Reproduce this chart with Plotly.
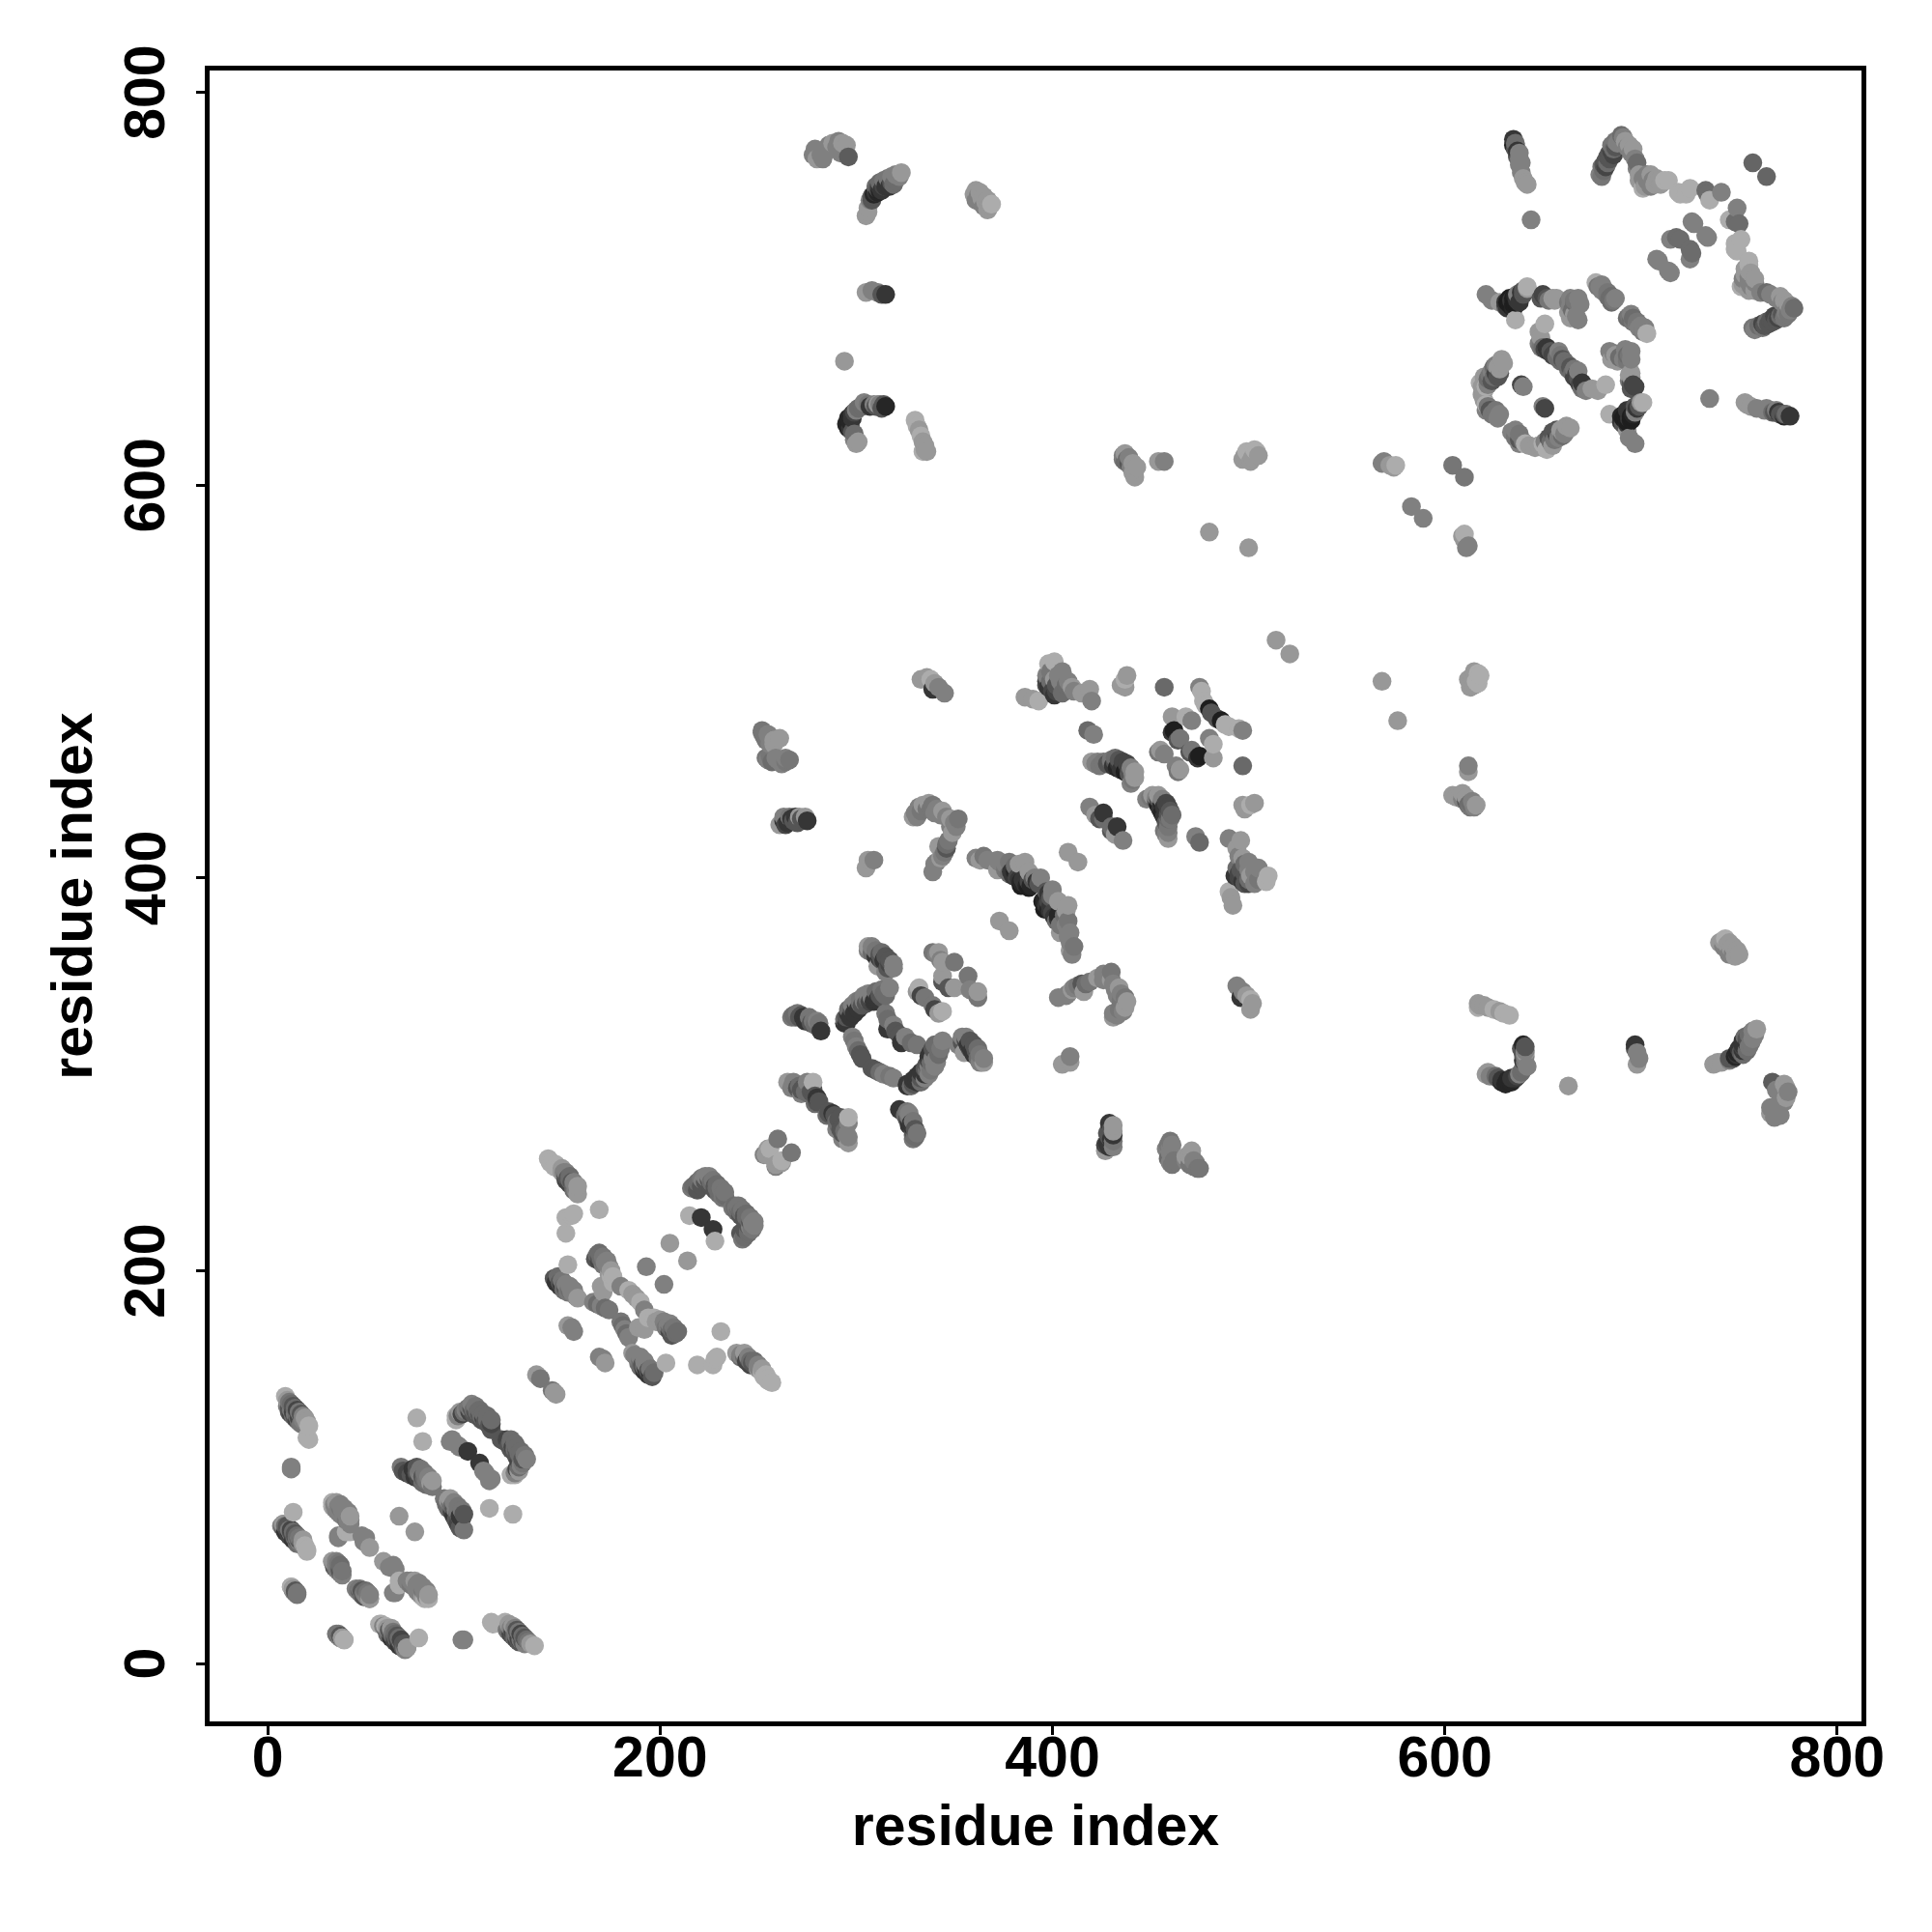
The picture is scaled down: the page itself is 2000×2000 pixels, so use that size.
import numpy as np
import plotly.graph_objects as go

# residue contacts as (residue i, residue j, grey level); the map is symmetric
domain_a = [
 (9,136,170),(10,131,125),(11,130,60),(12,129,110),(13,128,50),(14,127,110),(15,126,95),(16,125,50),(18,124,125),(19,123,125),(21,121,170),
 (20,115,170),(21,114,170),(12,99,125),
 (7,70,125),(8,69,60),(10,68,50),(11,67,40),(12,66,95),(13,65,50),(14,64,95),(15,63,60),(16,62,125),(18,61,150),(20,58,170),(13,77,170),
 (33,82,170),(34,81,125),(36,80,125),(37,79,110),(38,78,125),(39,77,125),(40,76,125),(41,74,125),(42,73,125),
 (36,64,125),(40,67,170),(48,65,125),(49,62,125),(52,59,150),
 (33,52,150),(34,51,125),(35,50,125),(36,49,110),(37,48,60),(38,47,110),
 (12,39,170),(13,38,150),(13,37,125),(14,36,95),(15,35,110),
 (36,15,110),(37,14,60),(38,13,150),(39,12,170),
 (45,38,125),(46,37,110),(47,37,60),(48,36,110),(50,35,125),(51,34,150),(52,33,150),
 (10,134,150),(11,133,110),(12,132,95),(13,131,60),(14,130,95),(15,129,50),(16,128,110),(17,127,60),(18,126,125),(19,125,150),(20,123,150),
 (11,128,60),(12,127,50),(13,126,95),(14,125,60),(15,124,50),(16,123,95),(17,122,110),
 (8,71,125),(9,70,95),(10,70,60),(12,68,50),(13,67,95),(14,66,60),(15,65,95),(16,64,110),(17,63,110),(18,63,150),(19,60,170),
 (9,67,40),(11,65,50),(13,63,40),(15,61,95),
 (35,82,150),(37,81,125),(39,79,125),(41,77,125),(42,75,150),
 (35,52,125),(36,51,110),(37,50,95),(34,49,60),(35,48,95),(36,47,125),
]
domain_a2 = [
 (68,100,110),(74,99,40),(75,98,40),(76,97,60),(77,97,110),(78,96,125),(79,95,60),(80,94,95),(81,93,110),(83,92,150),(84,90,110),
 (67,75,150),
 (76,125,170),(79,113,170),(93,113,125),(97,111,125),(102,108,40),
 (96,124,170),(99,127,50),(101,129,125),(103,130,110),(104,130,60),(105,129,95),(106,128,60),(107,128,95),(108,127,60),(109,126,95),(110,125,50),(112,124,95),(114,122,50),
 (114,119,60),
 (69,98,60),(71,97,50),(73,96,60),(75,95,40),(77,94,50),(79,92,95),(81,91,95),(76,100,60),(78,99,110),(80,97,110),(82,95,125),(84,93,150),
 (97,126,125),(100,128,95),(102,130,110),(103,128,50),(105,127,60),(107,126,60),(109,124,60),(111,123,60),(113,121,60),
 (104,132,125),(106,131,110),(108,129,95),(110,127,95),(112,126,95),(114,124,95),
]
domain_a3 = [
 (94,114,125),(98,110,125),(96,126,170),(98,128,150),
 (20,57,170),(19,59,125),(18,60,110),(17,62,60),(16,63,60),(15,64,110),(14,65,60),(13,66,60),(12,67,60),(11,68,110),(10,69,60),(8,70,125),(8,71,150),
 (12,100,125),
 (42,71,125),(41,72,125),(40,73,110),(37,76,125),(36,77,125),(35,78,125),(34,79,150),(33,80,170),
 (50,64,125),(36,65,125),(42,67,170),
]
helix_pair = [(138,146,150),(139,145,110),(137,147,150)]

domain_b = [
 (143,257,170),(145,255,170),(147,254,170),(149,252,170),(151,250,125),(152,248,60),(153,247,60),(154,246,95),(155,245,60),(156,243,95),(157,241,125),(158,239,150),
 (156,229,170),(152,227,170),(152,219,170),(169,231,170),(155,228,170),
 (216,242,110),(218,243,95),(220,245,95),(222,246,125),(224,247,125),(225,246,60),(226,245,95),(227,244,95),(228,243,60),(229,242,95),(230,241,95),(231,240,95),(232,239,110),(233,238,95),
 (215,228,170),(221,227,40),(205,214,150),
 (146,196,60),(148,195,40),(149,194,60),(150,193,40),(151,192,95),(152,191,60),(154,190,95),(155,189,125),(157,187,125),(158,186,150),(153,203,170),
 (153,172,150),(155,171,125),(156,169,125),
 (168,208,95),(169,207,60),(170,206,95),(171,205,95),(172,204,125),(174,202,125),(175,200,150),(175,197,170),(176,194,170),
 (166,184,125),(168,183,95),(170,182,125),(172,181,95),(174,180,110),
 (170,192,150),(171,189,150),(176,197,170),(184,190,170),(180,192,125),(186,188,150),(174,198,150),
 (193,202,125),
 (255,262,150),(260,267,110),(254,259,150),(256,262,170),(253,259,125),
 (144,255,170),(146,253,170),(148,252,170),(150,250,150),(152,246,50),(154,244,50),(156,241,95),(150,252,150),(152,250,125),(154,248,95),(156,245,125),(158,243,150),
 (217,243,95),(219,245,95),(221,247,110),(223,248,125),(225,248,125),(227,246,110),(229,244,95),(231,242,110),(233,240,110),
 (219,241,60),(221,243,60),(223,245,60),(226,243,60),(228,241,60),(230,239,95),(232,237,110),
 (147,194,40),(149,192,40),(151,190,95),(153,189,110),(148,197,95),(150,195,110),(152,193,125),(154,192,125),(156,190,125),
 (169,209,95),(171,207,110),(173,205,125),(167,206,60),(169,205,50),(171,203,110),
]

domain_c = [
 (252,474,110),(253,472,110),(254,470,110),(256,468,125),(258,468,150),(261,471,150),(254,461,110),(257,459,95),(260,460,125),(263,460,125),(266,460,110),
 (261,427,150),(263,431,125),(265,428,40),(266,431,110),(268,429,60),(270,428,60),(271,431,150),(274,431,150),(275,429,40),
 (305,405,150),(306,409,150),(309,409,125),
 (333,501,150),(336,502,150),(338,501,170),(339,496,40),(340,499,150),(342,497,125),(345,494,125),
 (329,431,150),(330,433,125),(332,436,125),(334,437,150),(337,438,150),(339,437,110),(341,435,125),(344,434,150),(348,430,150),(352,430,110),(351,426,125),(349,423,150),(347,419,110),(346,415,60),(345,413,110),(342,416,150),(343,410,150),(340,407,125),(339,403,125),
 (331,431,125),(333,434,110),(336,435,110),(338,435,110),(340,433,125),(343,432,125),(346,431,125),(350,428,125),(348,426,125),(346,417,95),(344,411,125),(341,408,125),
 (252,475,110),(255,473,125),(256,472,125),(258,470,150),(255,460,125),(256,462,110),(259,461,125),(262,458,125),(264,461,125),(264,459,110),
 (263,429,40),(264,427,50),(267,430,40),(269,431,40),(272,430,60),
]

arc_contacts = [
 (361,410,125),(363,409,150),(365,411,110),(367,409,125),(370,408,125),(372,409,125),(372,404,150),(373,408,125),(376,407,125),(378,408,110),(379,403,40),(381,403,30),(381,406,95),(383,407,150),(383,399,40),(384,396,25),(386,408,150),(385,399,40),(388,395,25),(387,396,30),(388,403,150),(389,396,30),(390,399,60),(392,398,40),(394,400,125),
 (373,378,150),(408,413,150),
 (376,404,110),(378,402,95),(380,401,40),(382,400,50),(384,398,30),(386,397,40),(388,398,50),(391,400,125),(393,397,60),
]

ring_a = [
 (306,365,150),(308,365,125),(310,363,110),(312,361,60),(313,358,60),(315,357,40),(317,356,50),(319,354,125),(311,355,150),(315,352,125),
 (306,363,125),(308,362,95),(310,360,40),(312,359,40),(314,358,40),(316,354,60),(313,362,95),(315,360,60),(317,358,60),(319,356,125),
 (339,362,110),(341,361,125),(342,362,150),(343,358,125),(344,357,150),(350,357,110),(344,350,150),(344,347,60),
 (331,342,150),(332,344,170),(333,340,50),(335,339,110),
 (294,326,40),(295,329,60),(296,331,40),(298,333,60),(300,335,40),(302,336,95),(304,337,125),(306,338,95),(308,339,125),(310,338,40),(312,340,60),(314,341,95),(317,344,125),
 (295,326,40),(297,329,40),(299,331,40),(301,333,40),(303,335,60),(305,336,60),(307,337,50),(309,337,40),(311,338,40),(313,339,60),(315,340,95),
 (294,328,95),(296,333,95),(298,335,125),(300,337,125),(302,338,110),(304,340,125),(306,341,125),(308,341,125),(310,342,95),(313,343,110),
 (298,319,125),(299,317,110),(300,314,125),(301,312,95),(302,310,60),(303,308,60),
 (315,331,110),(316,328,95),(316,323,40),(319,325,125),(320,322,60),
 (267,329,110),(269,329,95),(271,329,60),(273,329,40),(275,328,40),(277,326,60),(279,325,95),(281,326,110),(282,322,40),
 (268,330,95),(270,331,110),(272,330,60),(274,327,40),(276,327,40),(278,327,110),(280,327,125),(276,329,110),
 (265,296,150),(267,293,125),(269,295,125),(271,294,95),(273,293,60),(275,296,125),(278,296,170),(276,290,95),(272,290,125),(278,292,60),(280,288,40),(279,285,95),(281,286,60),
 (268,296,125),(270,293,60),(272,292,60),(274,291,95),(277,291,60),(279,289,60),(280,286,60),
]

domain_d = [
 (398,509,170),(401,510,170),(397,503,125),(405,505,125),(401,501,150),(397,498,60),(407,498,95),(402,495,50),(410,497,150),(415,494,150),(419,496,150),(420,490,125),(386,492,150),(390,491,150),(393,490,170),(404,500,125),(399,505,110),(401,493,40),
 (397,500,50),(398,497,40),(400,495,50),(399,500,95),(402,498,60),(404,496,60),(405,494,95),(403,503,125),(408,500,125),(411,495,125),
 (437,501,170),(438,503,150),(437,497,150),(435,498,150),
 (421,473,125),(418,475,90),
 (420,459,150),(423,459,125),(426,459,110),(430,459,95),(432,459,60),(434,458,40),(436,457,40),(438,456,30),(440,454,60),(441,453,125),(442,451,150),(440,448,125),
 (422,458,125),(424,457,110),(428,458,60),(431,457,40),(433,456,30),(435,455,40),(437,454,25),(439,453,60),
 (430,460,110),(432,461,95),(434,460,60),(436,459,50),(438,458,50),(440,456,125),(442,454,150),(441,450,110),
 (419,436,125),(422,432,150),(424,430,60),(426,433,40),(426,430,95),
 (457,497,90),
 (454,464,110),(455,465,150),(457,463,125),(461,474,40),(462,475,25),(464,470,60),(465,471,110),(461,482,150),(471,480,125),(468,482,170),
 (475,497,125),(476,495,170),(477,490,170),(478,488,170),(480,486,25),(481,484,60),
 (514,521,150),
]

far_contacts = [
 (480,576,150),(500,568,150),(497,613,150),(499,617,170),(502,614,150),(505,615,150),(503,618,170),(498,615,150),(500,616,170),(504,617,170),(501,612,150),
 (454,612,150),(457,612,125),(436,615,125),(437,616,150),(438,613,95),(439,611,60),(440,609,125),(441,606,150),(442,604,150),(443,609,150),
 (436,613,110),(437,612,95),(439,614,125),(441,611,150),(442,608,150),
 (568,611,125),(569,612,125),(572,610,150),(574,609,150),(575,610,170),(604,610,110),(583,589,125),
 (278,768,125),(280,766,150),(283,766,125),(285,771,125),(288,774,150),(291,775,125),(293,774,150),(295,773,150),(296,767,70),(292,769,125),
 (279,771,125),(282,768,125),(284,769,125),(286,773,125),(290,772,125),
 (305,737,150),(306,741,150),(307,745,125),(308,747,60),(310,749,40),(311,751,60),(312,752,40),(314,752,50),(316,754,40),(318,754,60),(320,755,95),(322,757,125),(323,759,150),
 (308,745,60),(309,748,30),(311,749,30),(312,750,30),(313,750,40),(315,752,40),(317,752,40),(319,753,95),(310,752,95),(312,754,95),(314,755,110),(316,756,110),(318,757,125),(320,758,125),(306,739,150),
 (360,748,150),(362,747,125),(364,746,150),(366,744,150),(368,742,150),
 (361,750,150),(363,749,150),(365,747,150),(367,745,150),(361,745,125),(363,744,125),(365,742,125),(367,740,150),(369,743,170),
 (305,698,150),(308,699,125),(311,698,125),(313,697,60),(315,697,40),
 (294,663,150),
 (295,631,30),(296,634,30),(297,629,40),(298,636,40),(299,626,95),(300,638,125),(301,622,150),(303,640,95),(306,641,110),(309,641,125),(311,641,150),(313,639,60),(315,640,30),
 (296,629,30),(297,632,30),(298,634,40),(299,637,50),(301,639,95),(304,642,125),(307,640,40),(310,640,60),(312,641,125),(314,641,60),(298,627,60),(299,623,125),(300,621,150),
 (330,633,170),(332,628,150),(333,625,170),(335,620,150),(336,617,150),(334,617,170),(335,618,150),(334,622,150),(331,630,170),
 (635,776,40),(636,774,95),(636,771,60),(637,768,60),(637,767,95),(638,766,125),(638,763,125),(639,759,125),(640,756,150),(642,753,150),(644,735,125),
 (636,773,60),(635,773,30),(637,770,40),(638,769,125),(639,764,125),(641,754,150),
 (757,764,85),
]

domain_e = [
 (679,758,125),(680,762,110),(681,760,95),(682,765,60),(683,767,60),(684,769,60),(685,773,110),(686,771,95),(687,775,110),(690,778,95),(692,775,150),(694,773,150),(696,771,150),(698,764,95),(699,758,150),(700,756,150),(701,751,170),(702,752,150),(703,758,125),(705,752,125),(706,755,125),(709,755,150),(712,755,170),(714,755,170),(719,749,170),(720,748,170),(723,748,170),(725,751,170),(734,748,95),(733,750,95),(735,745,170),(741,749,125),
 (680,757,110),(681,763,60),(682,762,50),(683,764,95),(684,766,60),(685,770,50),(686,768,50),(687,772,60),(688,774,125),(689,776,125),(691,777,125),(693,772,125),(695,769,125),(697,766,125),(698,761,125),(699,755,150),(701,756,125),(703,755,125),(705,758,150),(707,753,150),(708,756,150),(710,753,150),
 (727,733,125),(726,734,125),(720,725,95),(715,725,125),(718,726,95),(709,714,125),(708,715,125),
 (621,697,125),(624,694,125),(628,693,150),(631,691,60),(632,693,25),(633,692,25),(634,694,40),(635,695,25),(636,696,30),(638,693,40),(639,698,40),(640,699,60),(642,701,170),(650,697,50),(652,695,60),(656,694,150),
 (633,695,25),(634,691,25),(635,692,25),(636,693,25),(637,694,40),(632,690,40),(631,693,40),(637,697,125),(640,697,60),(649,695,60),(651,696,50),(653,694,110),(655,695,150),
 (664,695,125),(666,694,110),(668,695,125),(664,691,125),(664,685,150),(666,687,150),(668,684,125),
 (666,693,95),(665,689,95),(667,686,125),(669,692,125),(663,693,110),(663,688,150),
 (677,703,170),(679,701,125),(680,699,125),(682,698,125),(683,696,110),(684,695,95),(686,694,110),
 (678,701,110),(680,702,125),(681,700,125),(683,698,110),(685,696,95),(685,693,95),(687,695,125),
 (618,652,170),(621,650,170),(621,641,170),(623,638,60),(624,653,60),(626,661,125),(628,657,60),(629,664,150),(628,636,125),(620,655,150),(619,646,150),(620,643,150),(627,660,150),(625,655,95),(622,651,125),(625,636,110),
 (619,650,150),(620,648,150),(622,654,95),(623,656,110),(624,658,125),(625,660,95),(626,657,50),(627,655,60),(628,659,150),(630,662,150),(621,638,125),(622,640,110),(624,636,110),(626,638,110),(627,634,125),
 (640,650,125),(639,651,50),
 (648,678,150),(648,672,125),(651,682,170),(650,670,95),(652,670,40),(654,668,60),(656,667,50),(659,666,110),(660,664,60),(661,663,95),
 (649,670,110),(651,669,50),(653,668,40),(655,666,50),(657,665,95),(658,668,125),(659,663,95),(649,675,150),
 (636,684,170),(635,690,30),
 (657,695,150),(642,700,150),
]

tick_values = [0, 200, 400, 600, 800]
tick_labels = ["0", "200", "400", "600", "800"]
axis_title = "residue index"

contacts = (domain_a + domain_a2 + domain_a3 + helix_pair + domain_b + domain_c +
            arc_contacts + ring_a + domain_d + far_contacts + domain_e)
res_i = np.array([c[0] for c in contacts])
res_j = np.array([c[1] for c in contacts])
grey = np.array([c[2] for c in contacts])

x = np.concatenate([res_i, res_j])
y = np.concatenate([res_j, res_i])
g = np.concatenate([grey, grey])
order = np.lexsort((y, x))

FAMILY = "Liberation Sans, Arial, sans-serif"
BOLD = dict(family=FAMILY, size=59, color="black", weight="bold")
GREY_STOPS = [(0, 0), (25, 30), (60, 85), (95, 108), (125, 128), (170, 172), (255, 255)]
scale = [[v / 255, f"rgb({c},{c},{c})"] for v, c in GREY_STOPS]

fig = go.Figure(go.Scatter(
    x=x[order], y=y[order], mode="markers", hoverinfo="skip",
    marker=dict(size=19.5, color=g[order], cmin=0, cmax=255, colorscale=scale,
                showscale=False, line=dict(width=0)),
))
axis = dict(showgrid=False, zeroline=False, showline=True, linecolor="black", linewidth=5, mirror=True,
            ticks="outside", ticklen=9, tickwidth=3, tickcolor="black",
            tickvals=tick_values, ticktext=tick_labels)
fig.update_xaxes(range=[-29.6, 812.4], tickfont=BOLD, ticklabelstandoff=-28,
                 title=dict(text=axis_title, standoff=19, font=BOLD), **axis)
fig.update_yaxes(range=[-29.5, 811], showticklabels=False,
                 title=dict(text=axis_title, standoff=90, font=BOLD), **axis)
for v, t in zip(tick_values, tick_labels):
    fig.add_annotation(x=-0.0389, y=v, xref="paper", yref="y", text=t, showarrow=False,
                       textangle=-90, font=BOLD, xanchor="center", yanchor="middle")
fig.update_layout(width=2000, height=2000, autosize=False, showlegend=False,
                  paper_bgcolor="white", plot_bgcolor="white",
                  margin=dict(l=217, r=73, t=73, b=218, autoexpand=False))
fig.write_html("out.html", post_script="document.body.style.margin='0';",
               config={"displayModeBar": False})
